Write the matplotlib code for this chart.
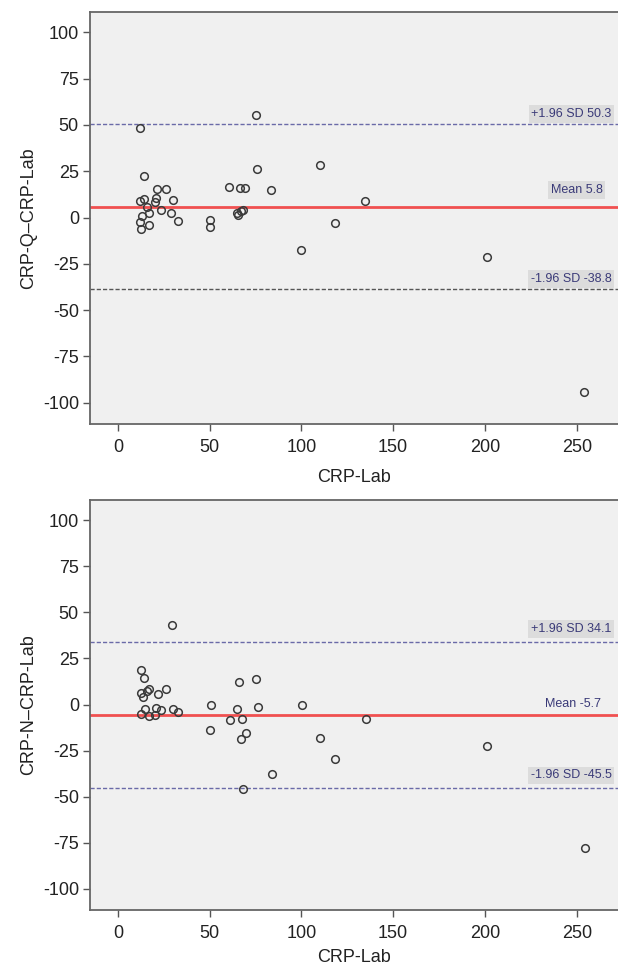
import matplotlib
matplotlib.use("Agg")
import matplotlib.pyplot as plt

# ---- data ----
lab_q = [12.3, 75.0, 14.4, 75.9, 109.9, 21.3, 26.1, 60.6, 66.8, 69.4, 83.6,
         12.3, 14.0, 20.9, 20.0, 30.0, 134.9, 15.7, 13.1, 17.0, 23.5, 29.1,
         32.8, 12.3, 12.5, 17.0, 50.4, 50.0, 64.7, 65.7, 67.0, 68.1, 118.1,
         99.8, 200.9, 253.9]
diff_q = [48.4, 55.2, 22.4, 26.0, 28.3, 15.2, 15.2, 16.5, 16.1, 15.8, 14.9,
          9.0, 10.2, 10.8, 8.4, 9.5, 8.8, 5.7, 0.9, 2.3, 4.1, 2.7,
          -2.0, -2.3, -6.1, -3.8, -1.1, -5.2, 2.5, 1.4, 3.6, 4.1, -2.9,
          -17.7, -21.3, -94.1]

lab_n = [29.5, 12.7, 14.2, 12.7, 13.6, 15.7, 17.2, 21.6, 26.3, 66.2, 75.2,
         50.6, 100.2, 65.1, 76.3, 14.7, 20.9, 23.7, 30.0, 33.0, 12.5, 17.0,
         20.3, 61.0, 67.5, 135.3, 50.2, 69.6, 67.0, 110.1, 118.1, 201.3,
         83.8, 68.1, 254.3]
diff_n = [43.4, 18.6, 14.6, 6.3, 3.9, 7.1, 8.2, 5.5, 8.2, 12.1, 14.1,
          0.0, 0.0, -2.5, -1.3, -2.5, -1.8, -2.7, -2.3, -4.1, -5.4, -6.1,
          -5.7, -8.6, -7.7, -8.0, -13.9, -15.4, -18.9, -18.2, -29.8, -22.7,
          -37.7, -45.9, -77.9]

mean_q, upper_q, lower_q = 5.8, 50.3, -38.8
mean_n, upper_n, lower_n = -5.7, 34.1, -45.5

x_ticks = [0, 50, 100, 150, 200, 250]
y_ticks = [100, 75, 50, 25, 0, -25, -50, -75, -100]
x_label = "CRP-Lab"
y_label_q = "CRP-Q\u2013CRP-Lab"
y_label_n = "CRP-N\u2013CRP-Lab"

plt.rcParams['font.family'] = ['Liberation Sans', 'DejaVu Sans']
plt.rcParams['axes.unicode_minus'] = False

fig = plt.figure(figsize=(6.18, 9.68), dpi=100)
W, H = 618, 968

def make_ax(top_px, bot_px):
    left_px, right_px = 90, 618
    return fig.add_axes([left_px / W, 1 - bot_px / H,
                         (right_px - left_px) / W, (bot_px - top_px) / H])

ax1 = make_ax(12, 424)
ax2 = make_ax(500, 910)

box_style = dict(boxstyle="square,pad=0.22", fc="#dcdcdc", ec="none")
txt_color = "#3a3a78"


def draw(ax, xs, ys, mean, upper, lower, ylabel, upper_col, lower_col,
         mean_box, offs, xlabelpad):
    ax.set_facecolor("#f0f0f0")
    ax.axhline(upper, color=upper_col, lw=1.0, ls=(0, (3, 1.5)), zorder=2)
    ax.axhline(lower, color=lower_col, lw=1.0, ls=(0, (3, 1.5)), zorder=2)
    ax.axhline(mean, color="#f05050", lw=2.0, zorder=2)
    ax.plot(xs, ys, ls="none", marker="o", ms=5.5, mfc="none",
            mec="#3a3a3a", mew=1.1, zorder=3)
    ax.set_xlim(-15.2, 272.5)
    ax.set_ylim(-111.5, 111.0)
    ax.set_xticks(x_ticks)
    ax.set_yticks(y_ticks)
    ax.tick_params(direction="out", length=5, width=1, color="#555555",
                   labelsize=13, labelcolor="#222222", pad=3)
    ax.tick_params(axis="x", pad=6)
    for s in ("left", "bottom", "top"):
        ax.spines[s].set_color("#666666")
        ax.spines[s].set_linewidth(1.3)
    ax.spines["right"].set_visible(False)
    ax.set_xlabel(x_label, fontsize=13, color="#222222", labelpad=xlabelpad)
    ax.set_ylabel(ylabel, fontsize=13, color="#222222", labelpad=4)
    xt = 269
    ax.text(xt, upper + offs[0], f"+1.96 SD {upper}", ha="right", va="center",
            fontsize=9, color=txt_color, bbox=box_style, zorder=4)
    ax.text(xt - (5 if mean_box else 6), mean + offs[1], f"Mean {mean}",
            ha="right", va="center", fontsize=9, color=txt_color,
            bbox=box_style if mean_box else None, zorder=4)
    ax.text(xt, lower + offs[2], f"-1.96 SD {lower}", ha="right", va="center",
            fontsize=9, color=txt_color, bbox=box_style, zorder=4)


draw(ax1, lab_q, diff_q, mean_q, upper_q, lower_q, y_label_q,
     "#6a6aa8", "#555555", True, (5.5, 9.0, 5.5), 9)
draw(ax2, lab_n, diff_n, mean_n, upper_n, lower_n, y_label_n,
     "#6a6aa8", "#6a6aa8", False, (7.0, 6.0, 7.0), 5)

fig.savefig("out.png", dpi=100, facecolor="white")
